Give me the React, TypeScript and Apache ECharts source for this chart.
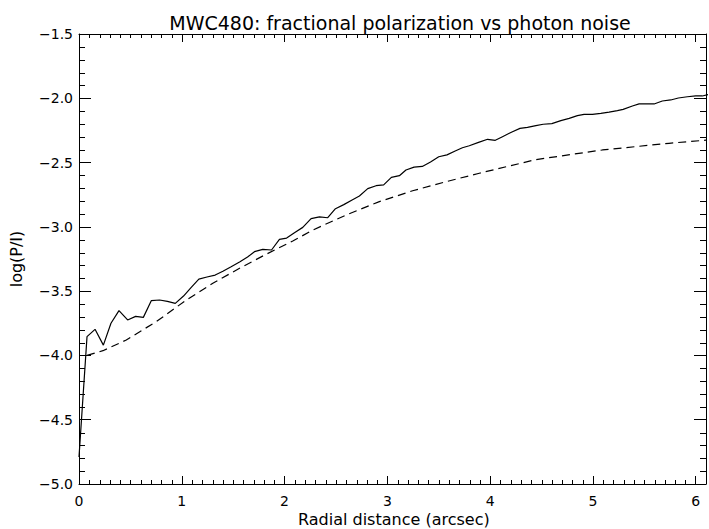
import React, { useEffect, useRef } from "react";
import * as echarts from "echarts";

const titleText = "MWC480: fractional polarization vs photon noise";
const xName = "Radial distance (arcsec)";
const yName = "log(P/I)";

const xTicks = [0, 1, 2, 3, 4, 5, 6];
const yTicks = [-5.0, -4.5, -4.0, -3.5, -3.0, -2.5, -2.0, -1.5];
const xMinorPerMajor = 10;
const yMinorPerMajor = 5;

// Measured fractional polarization (solid)
const measuredR = [
  0, 0.078, 0.156, 0.237, 0.311, 0.389, 0.473, 0.551, 0.626, 0.703, 0.784, 0.86,
  0.937, 1.017, 1.092, 1.166, 1.245, 1.325, 1.4, 1.48, 1.562, 1.64, 1.707, 1.788,
  1.873, 1.95, 2.02, 2.096, 2.177, 2.258, 2.339, 2.42, 2.495, 2.576, 2.657, 2.728,
  2.809, 2.89, 2.964, 3.039, 3.117, 3.181, 3.26, 3.34, 3.42, 3.5, 3.58, 3.66, 3.73,
  3.797, 3.887, 3.975, 4.05, 4.12, 4.212, 4.29, 4.363, 4.445, 4.516, 4.6, 4.688,
  4.769, 4.849, 4.914, 4.995, 5.077, 5.157, 5.238, 5.294, 5.384, 5.449, 5.52,
  5.595, 5.675, 5.757, 5.831, 5.919, 6.0, 6.064, 6.12,
];
const measuredLogP = [
  -4.79, -3.854, -3.797, -3.92, -3.75, -3.652, -3.724, -3.696, -3.704, -3.574, -3.569, -3.58,
  -3.595, -3.538, -3.47, -3.406, -3.39, -3.375, -3.345, -3.31, -3.273, -3.235, -3.193, -3.175,
  -3.18, -3.097, -3.087, -3.045, -3.004, -2.936, -2.923, -2.929, -2.859, -2.827, -2.791, -2.76,
  -2.703, -2.68, -2.674, -2.615, -2.602, -2.558, -2.535, -2.53, -2.495, -2.455, -2.44, -2.41, -2.385,
  -2.369, -2.343, -2.319, -2.327, -2.299, -2.262, -2.234, -2.226, -2.212, -2.202, -2.197, -2.174,
  -2.156, -2.135, -2.125, -2.125, -2.117, -2.107, -2.096, -2.086, -2.06, -2.044, -2.044,
  -2.044, -2.021, -2.013, -1.998, -1.988, -1.982, -1.982, -1.972,
];

// Photon noise level (dashed)
const noiseR = [
  0.078, 0.233, 0.46, 0.752, 1.044, 1.302, 1.562, 1.821, 2.08, 2.274, 2.598, 2.922,
  3.246, 3.57, 3.894, 4.445, 5.092, 5.74, 6.1,
];
const noiseLogP = [
  -4.0, -3.963, -3.88, -3.737, -3.569, -3.439, -3.322, -3.213, -3.11, -3.025, -2.908, -2.804,
  -2.719, -2.649, -2.583, -2.477, -2.402, -2.35, -2.326,
];

const FONT = "DejaVu Sans";

export default function App() {
  const ref = useRef<HTMLDivElement>(null);
  useEffect(() => {
    if (!ref.current) return;
    const chart = echarts.init(ref.current, null, { renderer: "svg" });
    const xMin = xTicks[0];
    const xMax = 6.1;
    const yMin = yTicks[0];
    const yMax = yTicks[yTicks.length - 1];
    const fmtY = (v: number) =>
      yTicks.some((t) => Math.abs(t - v) < 1e-6)
        ? (v < 0 ? "\u2212" : "") + Math.abs(v).toFixed(1)
        : "";
    const fmtX = (v: number) =>
      xTicks.some((t) => Math.abs(t - v) < 1e-6) ? String(Math.round(v)) : "";
    const xAx = (pos: "bottom" | "top", labels: boolean) => ({
      type: "value",
      position: pos,
      min: xMin,
      max: xMax,
      interval: 1,
      axisLine: { show: true, onZero: false, lineStyle: { color: "#000", width: 1 } },
      axisTick: { show: true, inside: true, length: 8, lineStyle: { color: "#000", width: 1 } },
      minorTick: { show: false },
      splitLine: { show: false },
      axisLabel: {
        show: labels,
        margin: 10,
        fontFamily: FONT,
        fontSize: 14,
        color: "#000",
        formatter: fmtX,
      },
    });
    const yAx = (pos: "left" | "right", labels: boolean) => ({
      type: "value",
      position: pos,
      min: yMin,
      max: yMax,
      interval: 0.5,
      axisLine: { show: true, onZero: false, lineStyle: { color: "#000", width: 1 } },
      axisTick: { show: true, inside: true, length: 12, lineStyle: { color: "#000", width: 1 } },
      minorTick: { show: false },
      splitLine: { show: false },
      axisLabel: {
        show: labels,
        margin: 6,
        fontFamily: FONT,
        fontSize: 14,
        color: "#000",
        formatter: fmtY,
      },
    });

    // minor tick positions (axis decoration)
    const xMinorVals: number[][] = [];
    const xStep = (xTicks[1] - xTicks[0]) / xMinorPerMajor;
    for (let k = 1; xMin + k * xStep < xMax - 1e-9; k++) {
      if (k % xMinorPerMajor !== 0) xMinorVals.push([xMin + k * xStep, yMin]);
    }
    const yMinorVals: number[][] = [];
    const yStep = (yTicks[1] - yTicks[0]) / yMinorPerMajor;
    for (let k = 1; yMin + k * yStep < yMax - 1e-9; k++) {
      if (k % yMinorPerMajor !== 0) yMinorVals.push([xMin, yMin + k * yStep]);
    }
    const tickStyle = { stroke: "#000", lineWidth: 1 };

    chart.setOption({
      animation: false,
      backgroundColor: "#fff",
      grid: { left: 79, top: 34, width: 628, height: 450, containLabel: false },
      title: {
        text: titleText,
        left: 395,
        textAlign: "center",
        top: 8,
        textStyle: { fontFamily: FONT, fontSize: 19, fontWeight: "normal", color: "#000" },
      },
      xAxis: [xAx("bottom", true), xAx("top", false)],
      yAxis: [yAx("left", true), yAx("right", false)],
      graphic: [
        {
          type: "text",
          left: 394 - 96,
          top: 511,
          style: { text: xName, fontFamily: FONT, fontSize: 16, fill: "#000" },
        },
        {
          type: "text",
          x: 16,
          y: 259,
          rotation: Math.PI / 2,
          style: {
            text: yName,
            fontFamily: FONT,
            fontSize: 16,
            fill: "#000",
            align: "center",
            verticalAlign: "middle",
          },
        },
      ],
      series: [
        {
          type: "line",
          xAxisIndex: 0,
          yAxisIndex: 0,
          data: measuredR.map((r, i) => [r, measuredLogP[i]]),
          showSymbol: false,
          symbol: "none",
          clip: true,
          lineStyle: { color: "#000", width: 1.2 },
        },
        {
          type: "line",
          xAxisIndex: 0,
          yAxisIndex: 0,
          data: noiseR.map((r, i) => [r, noiseLogP[i]]),
          showSymbol: false,
          symbol: "none",
          clip: true,
          lineStyle: { color: "#000", width: 1.2, type: [8, 5] },
        },
        {
          type: "custom",
          xAxisIndex: 0,
          yAxisIndex: 0,
          silent: true,
          clip: false,
          data: xMinorVals,
          renderItem: (params: any, api: any) => {
            const v = api.value(0);
            const b = api.coord([v, yMin]);
            const t = api.coord([v, yMax]);
            const px = Math.round(b[0]) + 0.5;
            return {
              type: "group",
              children: [
                { type: "line", shape: { x1: px, y1: b[1], x2: px, y2: b[1] - 4 }, style: tickStyle },
                { type: "line", shape: { x1: px, y1: t[1], x2: px, y2: t[1] + 4 }, style: tickStyle },
              ],
            };
          },
        },
        {
          type: "custom",
          xAxisIndex: 0,
          yAxisIndex: 0,
          silent: true,
          clip: false,
          data: yMinorVals,
          renderItem: (params: any, api: any) => {
            const v = api.value(1);
            const l = api.coord([xMin, v]);
            const r = api.coord([xMax, v]);
            const py = Math.round(l[1]) + 0.5;
            return {
              type: "group",
              children: [
                { type: "line", shape: { x1: l[0], y1: py, x2: l[0] + 6, y2: py }, style: tickStyle },
                { type: "line", shape: { x1: r[0], y1: py, x2: r[0] - 6, y2: py }, style: tickStyle },
              ],
            };
          },
        },
      ],
    });
    return () => chart.dispose();
  }, []);
  return (
    <div
      ref={ref}
      style={{ position: "absolute", left: 0, top: 0, width: 709, height: 529 }}
    />
  );
}
